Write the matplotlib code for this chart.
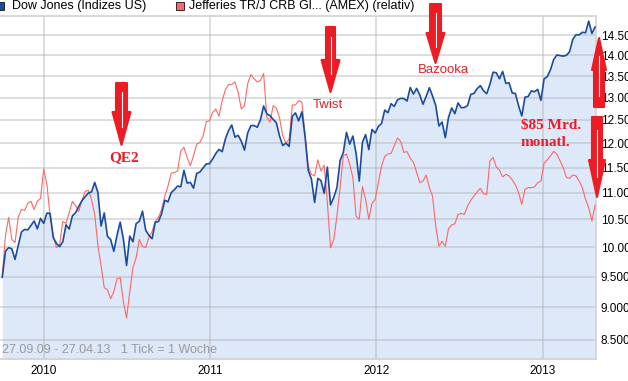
import pandas as pd
import matplotlib
matplotlib.use("Agg")
import matplotlib.pyplot as plt
from matplotlib.ticker import NullLocator
from matplotlib.patches import Polygon, Rectangle

plt.rcParams['font.family'] = 'Liberation Sans'

# Wochenschlusskurse (Freitag), 02.10.2009 - 26.04.2013
dates = pd.date_range("2009-10-02", "2013-04-26", freq="W-FRI")

dow_2009 = [9487, 9930, 9995, 9972, 9790, 10023, 10270, 10318, 10310, 10390, 10471, 10329, 10520]
dow_2010 = [10428, 10618, 10610, 10172, 10067, 10012, 10099, 10402, 10325, 10567, 10625, 10742, 10850,
            10927, 10997, 11019, 11204, 11009, 10380, 10620, 10193, 10137, 9931, 10212, 10450, 10144,
            9686, 10198, 10097, 10424, 10466, 10654, 10303, 10213, 10150, 10448, 10462, 10607, 10860,
            10829, 11006, 11062, 11133, 11118, 11444, 11192, 11204, 11092, 11382, 11410, 11491, 11573, 11578]
dow_2011 = [11674, 11787, 11871, 11824, 12092, 12273, 12391, 12130, 12169, 12044, 11858, 12220, 12376,
            12380, 12341, 12505, 12811, 12638, 12596, 12512, 12441, 12151, 11952, 12004, 11934, 12582,
            12657, 12479, 12681, 12143, 11444, 11269, 10817, 11284, 11240, 10992, 11509, 10771, 10913,
            11103, 11644, 11808, 12231, 11983, 12153, 11796, 11231, 12019, 12184, 11867, 12294, 12218]
dow_2012 = [12360, 12422, 12720, 12660, 12862, 12801, 12950, 12983, 12978, 12922, 13233, 13081, 13212,
            13060, 12850, 13029, 13228, 13038, 12821, 12369, 12455, 12119, 12554, 12767, 12640, 12880,
            12772, 12777, 12822, 13075, 13096, 13207, 13275, 13157, 13090, 13306, 13593, 13579, 13437,
            13610, 13328, 13343, 13107, 13093, 12815, 12588, 13010, 13026, 13155, 13135, 13190, 12938]
dow_2013 = [13435, 13488, 13650, 13896, 14010, 13993, 13981, 14001, 14090, 14397, 14515, 14512, 14579,
            14565, 14865, 14547, 14712]

# CRB relativ zum Dow
crb_2009 = [9520, 10210, 10537, 10137, 10083, 10537, 10686, 10667, 10800, 10838, 10686, 10838, 10895]
crb_2010 = [11466, 11168, 10555, 10190, 9995, 10048, 10463, 10427, 10630, 10838, 10762, 10649, 10857,
            11031, 11050, 10876, 10592, 10030, 9683, 9315, 9282, 9137, 9250, 9463, 9480, 9089,
            8836, 9250, 9650, 9820, 10137, 10013, 9995, 10173, 10281, 10463, 10537, 10686, 10938,
            11135, 11386, 11400, 11431, 11842, 11913, 11705, 11534, 11740, 11983, 12017, 12146, 12461, 12483]
crb_2011 = [12668, 12744, 12581, 12932, 13185, 13297, 13304, 13363, 13124, 12744, 12818, 13320, 13538,
            13435, 13363, 13395, 13562, 12568, 12450, 12818, 12760, 12545, 12160, 12004, 12089, 12833,
            12833, 12932, 12900, 12195, 11530, 11365, 11333, 11656, 11431, 11548, 10812, 9990, 10137,
            10561, 11103, 11740, 11775, 11568, 11300, 10561, 10500, 11123, 10876, 10500, 10800, 10876]
crb_2012 = [11200, 11530, 11728, 11775, 11790, 11947, 12110, 12040, 11810, 11825, 11690, 11608, 11400,
            11200, 11230, 11350, 11103, 10938, 10377, 10018, 10106, 10018, 10330, 10400, 10420, 10592,
            10611, 10592, 10748, 10857, 10938, 11023, 11089, 10985, 10970, 11636, 11705, 11512, 11447,
            11313, 11365, 11333, 11253, 11155, 11005, 10780, 11070, 11103, 11103, 11115, 11200, 11230]
crb_2013 = [11590, 11656, 11740, 11830, 11775, 11636, 11502, 11300, 11286, 11350, 11333, 11230, 11103,
            10876, 10718, 10470, 10767]

dow = dow_2009 + dow_2010 + dow_2011 + dow_2012 + dow_2013
crb = crb_2009 + crb_2010 + crb_2011 + crb_2012 + crb_2013

y_ticks = list(range(8500, 15000, 500))
year_ticks = pd.to_datetime(["2010-01-01", "2011-01-01", "2012-01-01", "2013-01-01"])
year_labels = ["2010", "2011", "2012", "2013"]

RED = '#ec1c24'
W, H = 628, 381

fig = plt.figure(figsize=(W / 100, H / 100), dpi=100)
ax = fig.add_axes([0, 22 / H, 596 / W, 343 / H])

ax.fill_between(dates, dow, 8000, color='#dde8f8', lw=0, zorder=1)
ax.plot(dates, crb, color='#ff6666', lw=0.8, zorder=3)
ax.plot(dates, dow, color='#1b4c9c', lw=1.2, zorder=4)

ax.set_yscale('log')
ax.set_ylim(8221, 15000)
ax.set_xlim(pd.Timestamp("2009-09-27"), pd.Timestamp("2013-04-28"))
ax.set_yticks(y_ticks)
ax.yaxis.set_minor_locator(NullLocator())
ax.set_yticklabels([f"{v:,}".replace(",", ".") for v in y_ticks])
ax.yaxis.tick_right()
ax.set_xticks(year_ticks)
ax.set_xticklabels(year_labels)
ax.tick_params(axis='y', length=0, pad=3.5, labelsize=8.5)
ax.tick_params(axis='x', length=0, pad=4, labelsize=8.5)

ax.set_axisbelow('line')
ax.grid(True, color='#b0b0b0', alpha=0.45, lw=1.3)
ax.spines['left'].set_visible(False)
for s in ['top', 'right', 'bottom']:
    ax.spines[s].set_color('#d2d2d2')
    ax.spines[s].set_linewidth(1.2)

ax.text(2 / 596, 9 / 343, "27.09.09 - 27.04.13   1 Tick = 1 Woche", transform=ax.transAxes,
        va='center', ha='left', color='#9a9a9a', size=9)

# Legende oben
fig.add_artist(Rectangle((-4 / W, 1 - 10 / H), 8 / W, 8 / H, transform=fig.transFigure,
                         facecolor='#1b4c9c', edgecolor='#111111', lw=0.6))
fig.add_artist(Rectangle((176 / W, 1 - 9.5 / H), 8 / W, 8 / H, transform=fig.transFigure,
                         facecolor='#ff6666', edgecolor='#111111', lw=0.6))
fig.text(12 / W, 1 - 5.5 / H, "Dow Jones (Indizes US)", va='center', ha='left', size=9)
fig.text(189 / W, 1 - 5.5 / H, "Jefferies TR/J CRB Gl... (AMEX) (relativ)", va='center', ha='left', size=9)


def arrow(cx, top, tip, shaft_w, head_w, head_y):
    pts = [(cx - shaft_w / 2, top), (cx + shaft_w / 2, top), (cx + shaft_w / 2, head_y),
           (cx + head_w / 2, head_y), (cx, tip), (cx - head_w / 2, head_y), (cx - shaft_w / 2, head_y)]
    fig.add_artist(Polygon([(x / W, 1 - y / H) for x, y in pts], closed=True, transform=fig.transFigure,
                           facecolor=RED, edgecolor=RED, lw=1.5, joinstyle='round', zorder=10))
    y1 = top + 0.3 * (head_y - top)
    y2 = head_y + 0.45 * (tip - head_y)
    fig.add_artist(plt.Line2D([cx / W, cx / W], [1 - y1 / H, 1 - y2 / H], transform=fig.transFigure,
                              color='white', lw=0.8, zorder=11))


arrow(121.5, 83, 145, 11, 18, 112)
arrow(330.5, 27, 92, 9, 18, 60)
arrow(435.5, 4, 63, 11, 18, 33)
arrow(599, 107, 38, 10, 14, 70)
arrow(597, 117, 197, 10, 16, 160)

fig.text(124 / W, 1 - 158 / H, "QE2", ha='center', va='center', family='Liberation Serif',
         weight='bold', size=11, color=RED)
fig.text(327.5 / W, 1 - 105 / H, "Twist", ha='center', va='center', size=9.5, color=RED)
fig.text(443 / W, 1 - 70 / H, "Bazooka", ha='center', va='center', size=9.5, color=RED)
fig.text(521 / W, 1 - 125 / H, "$85 Mrd.", ha='left', va='center', family='Liberation Serif',
         weight='bold', size=11, color=RED)
fig.text(521 / W, 1 - 142 / H, "monatl.", ha='left', va='center', family='Liberation Serif',
         weight='bold', size=11, color=RED)

fig.savefig("out.png", dpi=100)
